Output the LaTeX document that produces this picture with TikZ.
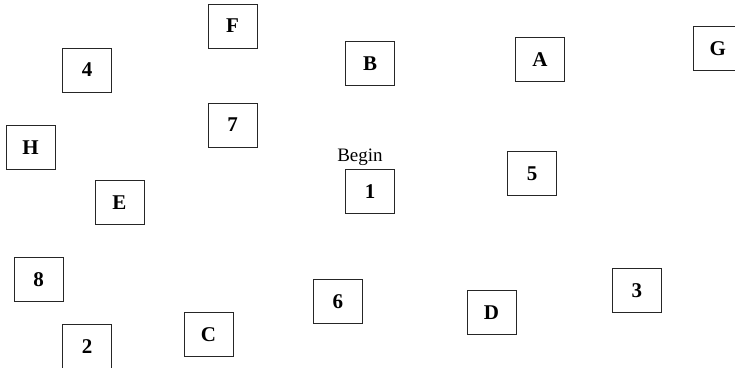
\documentclass[tikz,border=0pt]{standalone}
\usepackage{fontspec}
\setmainfont{Liberation Serif}
\usepackage{tikz}
\usetikzlibrary{positioning}

\begin{document}
\begin{tikzpicture}[x=1pt,y=-1pt,
  cell/.style={draw=black!85, line width=0.9pt, fill=white, minimum width=49, minimum height=44, inner sep=0pt, font=\fontsize{21}{24}\selectfont\bfseries}]
\clip (0,0) rectangle (735,367);
\node[cell] (F) at (232.5,26) {F};
\node[cell] (n4) at (87,70) {4};
\node[cell] (n7) at (232.5,125) {7};
\node[cell] (H) at (30.5,147.5) {H};
\node[cell] (B) at (370,63.5) {B};
\node[cell] (A) at (540,59.3) {A};
\node[cell] (G) at (717.7,48.3) {G};
\node[cell] (n1) at (370,191.3) {1};
\node[inner sep=0pt, font=\fontsize{19}{22}\selectfont, above=3pt of n1, xshift=-10pt] (begin) {Begin};
\node[cell] (n5) at (532,173.7) {5};
\node[cell] (E) at (119.5,202.3) {E};
\node[cell] (n8) at (38.7,279.5) {8};
\node[cell] (n2) at (87,346.5) {2};
\node[cell] (C) at (208.5,334.3) {C};
\node[cell] (n6) at (337.8,301.3) {6};
\node[cell] (D) at (491.5,312.2) {D};
\node[cell] (n3) at (636.8,290.3) {3};
\end{tikzpicture}
\end{document}
